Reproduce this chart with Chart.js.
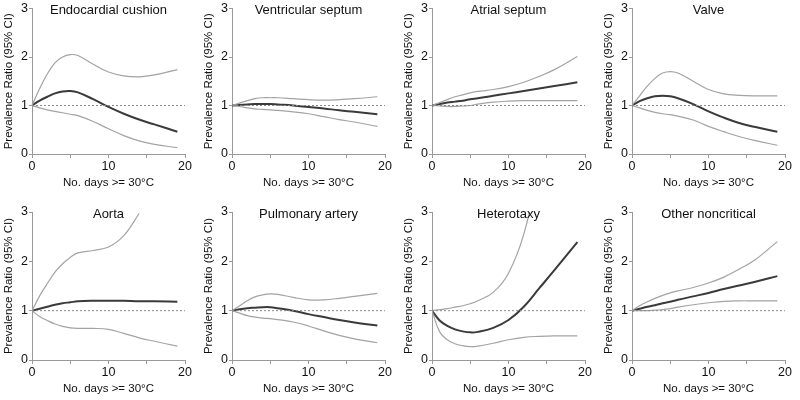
<!DOCTYPE html>
<html lang="en">
<head>
    <meta charset="UTF-8">
    <title>Prevalence Ratio by Days >= 30°C</title>
    <script src="https://cdn.jsdelivr.net/npm/chart.js"></script>
    <style>
        body {
            margin: 0;
            background: #ffffff;
            font-family: "Liberation Sans", Arial, sans-serif;
        }
        .grid {
            display: grid;
            grid-template-columns: repeat(4, 200px);
            grid-template-rows: repeat(2, 200px);
            width: 800px;
            height: 400px;
        }
        .panel {
            position: relative;
            width: 200px;
            height: 200px;
        }
    </style>
</head>
<body>

<div class="grid" id="grid"></div>

<script>
    const days = [0, 1, 2, 3, 4, 5, 6, 8, 10, 12, 14, 16, 19];

    const panelTitles = ['Endocardial cushion', 'Ventricular septum', 'Atrial septum', 'Valve',
                         'Aorta', 'Pulmonary artery', 'Heterotaxy', 'Other noncritical'];

    const xTicks = [0, 10, 20];
    const yTicks = [0, 1, 2, 3];

    // Endocardial cushion
    const cushionEst  = [1.0, 1.1, 1.18, 1.25, 1.29, 1.3, 1.27, 1.13, 0.97, 0.83, 0.71, 0.61, 0.46];
    const cushionHigh = [1.0, 1.35, 1.65, 1.88, 2.0, 2.05, 2.03, 1.85, 1.69, 1.61, 1.59, 1.63, 1.74];
    const cushionLow  = [1.0, 0.95, 0.91, 0.88, 0.85, 0.82, 0.79, 0.67, 0.52, 0.38, 0.27, 0.2, 0.13];

    // Ventricular septum
    const ventEst  = [1.0, 1.01, 1.02, 1.03, 1.03, 1.03, 1.02, 1.0, 0.97, 0.94, 0.9, 0.87, 0.82];
    const ventHigh = [1.0, 1.05, 1.1, 1.14, 1.16, 1.16, 1.16, 1.14, 1.12, 1.11, 1.12, 1.14, 1.18];
    const ventLow  = [1.0, 0.98, 0.95, 0.93, 0.92, 0.91, 0.9, 0.87, 0.83, 0.77, 0.71, 0.66, 0.57];

    // Atrial septum
    const atrialEst  = [1.0, 1.03, 1.06, 1.08, 1.1, 1.13, 1.15, 1.2, 1.25, 1.3, 1.35, 1.4, 1.48];
    const atrialHigh = [1.0, 1.06, 1.12, 1.18, 1.22, 1.26, 1.29, 1.33, 1.39, 1.48, 1.6, 1.74, 2.01];
    const atrialLow  = [1.0, 0.99, 0.98, 0.98, 0.99, 1.0, 1.03, 1.07, 1.09, 1.1, 1.1, 1.1, 1.1];

    // Valve
    const valveEst  = [1.0, 1.09, 1.15, 1.19, 1.2, 1.19, 1.15, 1.03, 0.88, 0.75, 0.64, 0.56, 0.46];
    const valveHigh = [1.0, 1.2, 1.4, 1.56, 1.67, 1.7, 1.67, 1.5, 1.33, 1.24, 1.21, 1.2, 1.2];
    const valveLow  = [1.0, 0.95, 0.9, 0.86, 0.83, 0.81, 0.78, 0.7, 0.57, 0.46, 0.36, 0.28, 0.18];

    // Aorta (upper limit leaves the plot near x = 14)
    const aortaEst  = [1.0, 1.04, 1.08, 1.12, 1.15, 1.17, 1.19, 1.2, 1.2, 1.2, 1.19, 1.19, 1.18];
    const aortaHigh = [1.0, 1.3, 1.55, 1.78, 1.95, 2.08, 2.17, 2.22, 2.29, 2.52, 2.97, null, null];
    const aortaLow  = [1.0, 0.88, 0.8, 0.73, 0.68, 0.65, 0.64, 0.64, 0.62, 0.54, 0.45, 0.38, 0.28];

    // Pulmonary artery
    const pulmEst  = [1.0, 1.03, 1.05, 1.06, 1.07, 1.07, 1.05, 1.0, 0.93, 0.87, 0.81, 0.76, 0.7];
    const pulmHigh = [1.0, 1.1, 1.2, 1.28, 1.32, 1.34, 1.33, 1.27, 1.22, 1.22, 1.25, 1.29, 1.35];
    const pulmLow  = [1.0, 0.95, 0.9, 0.87, 0.85, 0.84, 0.82, 0.77, 0.69, 0.59, 0.5, 0.43, 0.35];

    // Heterotaxy (upper limit leaves the plot near x = 12.5)
    const hetEst  = [1.0, 0.8, 0.69, 0.62, 0.58, 0.56, 0.57, 0.65, 0.81, 1.08, 1.45, 1.82, 2.39];
    const hetHigh = [1.0, 1.02, 1.04, 1.07, 1.1, 1.14, 1.2, 1.37, 1.76, 2.55, 3.9, null, null];
    const hetLow  = [1.0, 0.57, 0.41, 0.33, 0.29, 0.27, 0.28, 0.34, 0.41, 0.46, 0.48, 0.49, 0.49];

    // Other noncritical
    const otherEst  = [1.0, 1.04, 1.08, 1.11, 1.15, 1.18, 1.22, 1.29, 1.36, 1.44, 1.51, 1.58, 1.7];
    const otherHigh = [1.0, 1.1, 1.18, 1.25, 1.31, 1.36, 1.4, 1.47, 1.56, 1.68, 1.84, 2.02, 2.4];
    const otherLow  = [1.0, 1.0, 1.0, 1.01, 1.02, 1.04, 1.07, 1.12, 1.16, 1.19, 1.2, 1.2, 1.2];

    const estimates = [cushionEst, ventEst, atrialEst, valveEst, aortaEst, pulmEst, hetEst, otherEst];
    const highs     = [cushionHigh, ventHigh, atrialHigh, valveHigh, aortaHigh, pulmHigh, hetHigh, otherHigh];
    const lows      = [cushionLow, ventLow, atrialLow, valveLow, aortaLow, pulmLow, hetLow, otherLow];

    const FONT = '"Liberation Sans", Arial, sans-serif';
    const axisGrey = '#9a9a9a';

    function toPoints(vals) {
        return vals.map((v, i) => ({ x: days[i], y: v }));
    }

    // draws the panel name inside the plot, at the top
    const panelTitlePlugin = {
        id: 'panelTitle',
        afterDraw(chart, args, opts) {
            const { ctx, chartArea } = chart;
            ctx.save();
            ctx.font = '13px ' + FONT;
            ctx.fillStyle = '#111';
            ctx.textAlign = 'center';
            ctx.textBaseline = 'middle';
            ctx.fillText(opts.text, (chartArea.left + chartArea.right) / 2, chartArea.top + 2);
            ctx.restore();
        }
    };

    const grid = document.getElementById('grid');

    panelTitles.forEach((name, i) => {
        const bottomRow = i >= 4;
        const div = document.createElement('div');
        div.className = 'panel';
        const canvas = document.createElement('canvas');
        div.appendChild(canvas);
        grid.appendChild(div);

        new Chart(canvas, {
            type: 'line',
            data: {
                datasets: [
                    {
                        data: [{ x: 0, y: 1 }, { x: 20, y: 1 }],
                        borderColor: '#8a8a8a',
                        borderWidth: 1,
                        borderDash: [2, 2],
                        pointRadius: 0
                    },
                    {
                        data: toPoints(highs[i]),
                        borderColor: '#a3a3a3',
                        borderWidth: 1.2,
                        pointRadius: 0,
                        tension: 0.4,
                        clip: { left: false, top: 0, right: false, bottom: false }
                    },
                    {
                        data: toPoints(lows[i]),
                        borderColor: '#a3a3a3',
                        borderWidth: 1.2,
                        pointRadius: 0,
                        tension: 0.4
                    },
                    {
                        data: toPoints(estimates[i]),
                        borderColor: '#3a3a3a',
                        borderWidth: 2,
                        pointRadius: 0,
                        tension: 0.4
                    }
                ]
            },
            options: {
                responsive: true,
                maintainAspectRatio: false,
                animation: false,
                layout: {
                    padding: { top: bottomRow ? 12 : 5, right: 15, left: 2, bottom: 0 }
                },
                plugins: {
                    legend: { display: false },
                    tooltip: { enabled: false },
                    panelTitle: { text: name }
                },
                scales: {
                    x: {
                        type: 'linear',
                        min: 0,
                        max: 20,
                        afterFit: s => { s.height = bottomRow ? 40 : 46; },
                        ticks: {
                            stepSize: 5,
                            autoSkip: false,
                            maxRotation: 0,
                            padding: 1,
                            color: '#111',
                            font: { family: FONT, size: 12.5 },
                            callback: v => xTicks.includes(v) ? v : ''
                        },
                        grid: { drawOnChartArea: false, tickLength: 4, color: axisGrey },
                        border: { color: axisGrey },
                        title: {
                            display: true,
                            text: 'No. days >= 30°C',
                            color: '#111',
                            font: { family: FONT, size: 11.5 },
                            padding: { top: 4, bottom: bottomRow ? 4 : 10 }
                        }
                    },
                    y: {
                        min: 0,
                        max: 3,
                        afterFit: s => { s.width = 30; },
                        ticks: {
                            stepSize: 1,
                            padding: 1,
                            color: '#111',
                            font: { family: FONT, size: 12.5 },
                            callback: v => yTicks.includes(v) ? v : ''
                        },
                        grid: { drawOnChartArea: false, tickLength: 3, color: axisGrey },
                        border: { color: axisGrey },
                        title: {
                            display: true,
                            text: 'Prevalence Ratio (95% CI)',
                            color: '#111',
                            font: { family: FONT, size: 11.5 },
                            padding: 0
                        }
                    }
                }
            },
            plugins: [panelTitlePlugin]
        });
    });
</script>

</body>
</html>
